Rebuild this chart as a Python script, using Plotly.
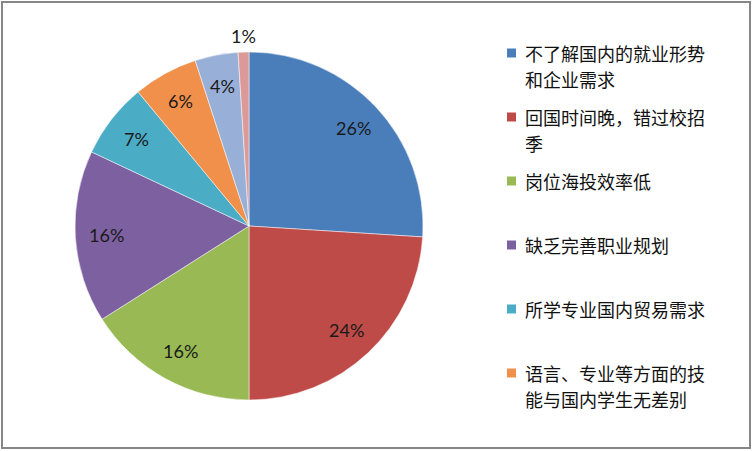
import math
import plotly.graph_objects as go

legend_lines = [
    ["不了解国内的就业形势", "和企业需求"],
    ["回国时间晚，错过校招", "季"],
    ["岗位海投效率低"],
    ["缺乏完善职业规划"],
    ["所学专业国内贸易需求"],
    ["语言、专业等方面的技", "能与国内学生无差别"],
    ["其他原因"],
    ["其他"],
]
labels = ["".join(l) for l in legend_lines]
values = [26, 24, 16, 16, 7, 6, 4, 1]
colors = ["#4A7EBB", "#BE4B48", "#98B954", "#7D60A0", "#4BACC6", "#F0904A", "#98AFD8", "#DB9A98"]
legend_count = 6  # the reference legend is truncated after six entries
outside = [False] * 7 + [True]

W, H = 753, 451
cx, cy, R = 249, 226, 174

fig = go.Figure()
fig.add_trace(go.Pie(
    labels=labels,
    values=values,
    sort=False,
    direction="clockwise",
    rotation=0,
    marker=dict(colors=colors, line=dict(color="white", width=0.5)),
    textinfo="none",
    domain=dict(x=[(cx - R) / W, (cx + R) / W], y=[(H - cy - R) / H, (H - cy + R) / H]),
    showlegend=False,
    hoverinfo="label+percent",
))

annotations = []
# percentage labels, placed at each slice's mid-angle (derived from the values)
total = sum(values)
cum = 0
for v, out in zip(values, outside):
    mid = (cum + v / 2) / total * 2 * math.pi
    cum += v
    f = 1.09 if out else 0.82
    px = cx + f * R * math.sin(mid)
    py = cy - f * R * math.cos(mid)
    annotations.append(dict(xref="paper", yref="paper", x=px / W, y=1 - py / H,
                            xanchor="center", yanchor="middle", showarrow=False,
                            text=f"{round(v / total * 100)}%",
                            font=dict(family="Lato, Open Sans, sans-serif", size=18, color="#1a1a1a")))

shapes = [dict(type="rect", xref="paper", yref="paper",
               x0=2 / W, x1=750 / W, y0=1 - 448 / H, y1=1 - 2 / H,
               line=dict(color="#868686", width=2), fillcolor="rgba(0,0,0,0)")]
for i in range(legend_count):
    top = 53 + i * 64
    shapes.append(dict(type="rect", xref="paper", yref="paper",
                       x0=507 / W, x1=516 / W, y0=1 - (top + 4.5) / H, y1=1 - (top - 4.5) / H,
                       fillcolor=colors[i], line=dict(width=0)))
    for j, line in enumerate(legend_lines[i]):
        annotations.append(dict(xref="paper", yref="paper", x=523 / W, y=1 - (top + 26 * j) / H,
                                xanchor="left", yanchor="middle", align="left", showarrow=False,
                                text=line,
                                font=dict(family="Noto Sans CJK SC", size=18, color="#111")))

fig.update_layout(
    width=W, height=H,
    margin=dict(l=0, r=0, t=0, b=0),
    paper_bgcolor="white",
    plot_bgcolor="white",
    shapes=shapes,
    annotations=annotations,
)
fig.write_html("out.html", post_script="document.body.style.margin='0';",
               config={"displayModeBar": False})
